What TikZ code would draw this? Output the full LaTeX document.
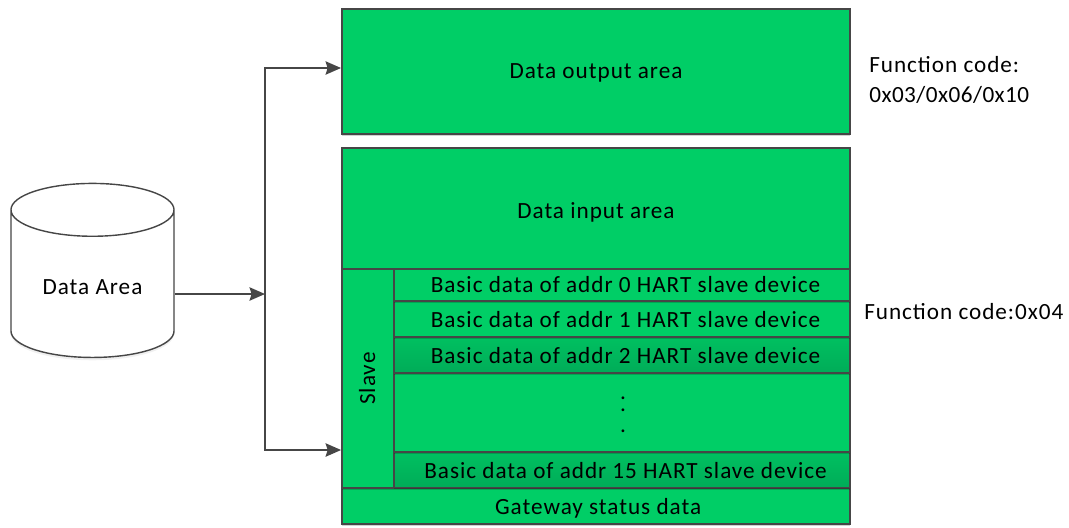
\documentclass[tikz,border=0pt]{standalone}
\usepackage{fontspec}
\setmainfont[LetterSpace=4.2]{Carlito}
\usetikzlibrary{arrows.meta}
\usetikzlibrary{shapes.geometric}
\usetikzlibrary{shadows}

\definecolor{areagreen}{RGB}{0,206,102}
\definecolor{rowgreen}{RGB}{0,172,88}
\definecolor{linegrey}{RGB}{70,70,70}

\tikzset{
  basebox/.style={draw=linegrey, line width=1.3pt, fill=areagreen, inner sep=0pt, font=\fontsize{16.5}{19}\selectfont,
    drop shadow={shadow xshift=0pt, shadow yshift=-1.5pt, opacity=0.18, fill=black}},
  areabox/.style={basebox, text height=11pt, text depth=1pt},
  lowbox/.style={basebox, text height=13.5pt, text depth=1pt},
  rowbox/.style={lowbox, minimum width=11.4cm, execute at begin node={\hspace*{5pt}}},
  darkrow/.style={rowbox, top color=areagreen!60!rowgreen, bottom color=rowgreen},
  conn/.style={draw=linegrey, line width=1.3pt},
  connarrow/.style={conn, -{Stealth[length=11pt, width=9.5pt, inset=1.5pt]}},
  codelabel/.style={inner sep=0pt, font=\fontsize{16.5}{21.3}\selectfont, align=left, anchor=west}
}

\begin{document}
\begin{tikzpicture}[x=0.025cm, y=-0.025cm]

    \useasboundingbox (0,0) rectangle (1069,527);

    % left store
    \node (store) [shape=cylinder, shape border rotate=90, aspect=0.53, draw=linegrey, line width=1pt, fill=white,
      drop shadow={shadow xshift=0pt, shadow yshift=-2pt, opacity=0.06, fill=black},
      minimum width=4.075cm, minimum height=4.35cm, inner sep=0pt, text height=15pt, text depth=0pt,
      font=\fontsize{16.5}{19}\selectfont] at (92.5,284) {Data Area};

    % areas
    \node (output) [areabox, minimum width=12.7cm, minimum height=3.125cm] at (596,71.5) {Data output area};
    \node (gateway) [lowbox, minimum width=12.7cm, minimum height=0.9cm, text height=12.5pt] at (596,506) {\hspace*{3pt}Gateway status data};
    \node (input) [areabox, minimum width=12.7cm, minimum height=3.025cm, text height=15pt] at (596,208.5) {Data input area};
    \node (slave) [areabox, minimum width=5.475cm, minimum height=1.3cm, rotate=90] at (368,378.5) {Slave};

    % rows of the slave part
    \node (addr15) [darkrow, minimum height=0.875cm, text height=12.5pt] at (622,470) {Basic data of addr 15 HART slave device};
    \node (dots) [basebox, minimum width=11.4cm, minimum height=1.975cm] at (622,412.5) {};
    \node (dotmarks) [inner sep=0pt, align=center, font=\fontsize{16.5}{10}\selectfont] at (623,414.5) {.\\[-1.5pt].\\[5pt].};
    \node (addr2) [darkrow, minimum height=0.9cm] at (622,355) {Basic data of addr 2 HART slave device};
    \node (addr1) [rowbox, minimum height=0.9cm] at (622,319) {Basic data of addr 1 HART slave device};
    \node (addr0) [rowbox, minimum height=0.8cm, text height=11pt] at (622,285) {Basic data of addr 0 HART slave device};

    % function codes
    \node (outcode) [codelabel] at (869,79.5) {Function code:\\{\addfontfeature{LetterSpace=2}0x03/0x06/0x10}};
    \node (incode) [codelabel] at (864,312) {Function code:0x04};

    % connectors
    \coordinate (bus) at (265,294);
    \coordinate (busout) at (265,68);
    \coordinate (busin) at (265,450);

    \draw [connarrow] (store.east |- bus) -- (bus);
    \draw [connarrow] (bus) -- (busout) -- (busout -| output.west);
    \draw [connarrow] (bus) -- (busin) -- (busin -| slave.north);

\end{tikzpicture}
\end{document}
